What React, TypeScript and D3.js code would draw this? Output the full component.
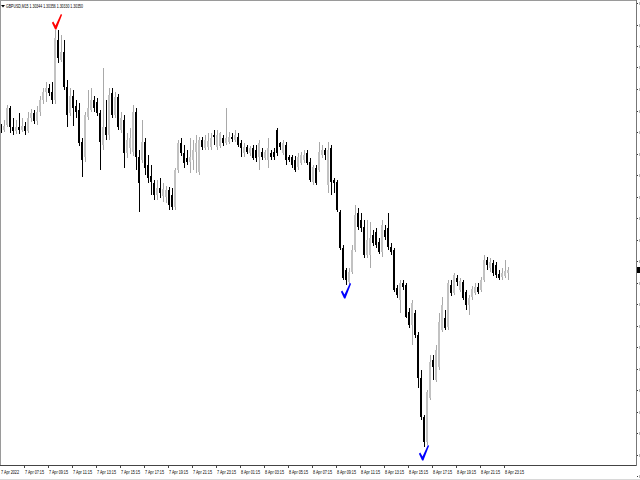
import React from 'react';
import * as d3 from 'd3';

// GBPUSD M15, 7 Apr 05:15 .. 8 Apr 23:30
const symbol = 'GBPUSD,M15';

const open = [
  1.30636, 1.30630, 1.30640, 1.30674, 1.30636, 1.30628, 1.30636, 1.30630, 1.30638, 1.30628,
  1.30654, 1.30664, 1.30648, 1.30666, 1.30690, 1.30706, 1.30714, 1.30706, 1.30690, 1.30810,
  1.30770, 1.30786, 1.30716, 1.30664, 1.30698, 1.30678, 1.30670, 1.30606, 1.30576, 1.30656,
  1.30670, 1.30690, 1.30686, 1.30664, 1.30600, 1.30636, 1.30620, 1.30704, 1.30660, 1.30696,
  1.30630, 1.30650, 1.30584, 1.30594, 1.30586, 1.30666, 1.30576, 1.30570, 1.30606, 1.30560,
  1.30538, 1.30524, 1.30500, 1.30514, 1.30498, 1.30496, 1.30510, 1.30500, 1.30476, 1.30550,
  1.30604, 1.30584, 1.30574, 1.30566, 1.30570, 1.30586, 1.30546, 1.30610, 1.30594, 1.30596,
  1.30596, 1.30620, 1.30596, 1.30598, 1.30614, 1.30604, 1.30606, 1.30616, 1.30610, 1.30616,
  1.30604, 1.30584, 1.30596, 1.30584, 1.30594, 1.30590, 1.30576, 1.30586, 1.30574, 1.30570,
  1.30584, 1.30586, 1.30630, 1.30604, 1.30584, 1.30600, 1.30576, 1.30576, 1.30570, 1.30556,
  1.30564, 1.30570, 1.30584, 1.30566, 1.30526, 1.30554, 1.30550, 1.30580, 1.30590, 1.30520,
  1.30594, 1.30530, 1.30526, 1.30466, 1.30394, 1.30350, 1.30326, 1.30346, 1.30390, 1.30464,
  1.30450, 1.30436, 1.30380, 1.30380, 1.30420, 1.30426, 1.30406, 1.30386, 1.30430, 1.30434,
  1.30396, 1.30390, 1.30314, 1.30290, 1.30324, 1.30320, 1.30266, 1.30240, 1.30264, 1.30220,
  1.30134, 1.30056, 1.30006, 1.30094, 1.30170, 1.30130, 1.30156, 1.30230, 1.30254, 1.30236,
  1.30320, 1.30304, 1.30334, 1.30310, 1.30326, 1.30306, 1.30280, 1.30296, 1.30304, 1.30316,
  1.30310, 1.30330, 1.30370, 1.30354, 1.30364, 1.30360, 1.30342, 1.30336, 1.30338, 1.30344,
];

const high = [
  1.30642, 1.30650, 1.30680, 1.30678, 1.30654, 1.30650, 1.30664, 1.30654, 1.30646, 1.30666,
  1.30672, 1.30670, 1.30678, 1.30698, 1.30714, 1.30726, 1.30722, 1.30726, 1.30830, 1.30830,
  1.30820, 1.30810, 1.30730, 1.30714, 1.30710, 1.30690, 1.30684, 1.30614, 1.30666, 1.30710,
  1.30714, 1.30698, 1.30694, 1.30670, 1.30754, 1.30690, 1.30714, 1.30714, 1.30706, 1.30702,
  1.30666, 1.30660, 1.30624, 1.30634, 1.30680, 1.30674, 1.30590, 1.30650, 1.30614, 1.30580,
  1.30560, 1.30530, 1.30530, 1.30534, 1.30524, 1.30518, 1.30516, 1.30514, 1.30554, 1.30610,
  1.30614, 1.30600, 1.30590, 1.30614, 1.30610, 1.30620, 1.30616, 1.30616, 1.30620, 1.30624,
  1.30624, 1.30630, 1.30630, 1.30626, 1.30620, 1.30674, 1.30626, 1.30624, 1.30630, 1.30624,
  1.30610, 1.30604, 1.30600, 1.30598, 1.30600, 1.30600, 1.30610, 1.30594, 1.30590, 1.30614,
  1.30590, 1.30594, 1.30634, 1.30606, 1.30610, 1.30606, 1.30580, 1.30580, 1.30578, 1.30584,
  1.30586, 1.30590, 1.30590, 1.30574, 1.30560, 1.30560, 1.30606, 1.30600, 1.30594, 1.30606,
  1.30600, 1.30534, 1.30530, 1.30470, 1.30400, 1.30354, 1.30354, 1.30400, 1.30480, 1.30474,
  1.30464, 1.30450, 1.30450, 1.30446, 1.30430, 1.30434, 1.30414, 1.30450, 1.30440, 1.30464,
  1.30404, 1.30394, 1.30320, 1.30330, 1.30330, 1.30324, 1.30274, 1.30290, 1.30270, 1.30226,
  1.30150, 1.30060, 1.30110, 1.30180, 1.30180, 1.30200, 1.30264, 1.30296, 1.30270, 1.30330,
  1.30330, 1.30344, 1.30340, 1.30334, 1.30330, 1.30310, 1.30300, 1.30318, 1.30324, 1.30324,
  1.30336, 1.30380, 1.30376, 1.30374, 1.30370, 1.30366, 1.30350, 1.30354, 1.30370, 1.30356,
];

const low = [
  1.30624, 1.30626, 1.30636, 1.30624, 1.30620, 1.30622, 1.30622, 1.30626, 1.30620, 1.30624,
  1.30646, 1.30642, 1.30640, 1.30658, 1.30682, 1.30686, 1.30698, 1.30682, 1.30682, 1.30764,
  1.30766, 1.30710, 1.30636, 1.30658, 1.30638, 1.30654, 1.30598, 1.30536, 1.30566, 1.30650,
  1.30666, 1.30666, 1.30658, 1.30550, 1.30590, 1.30610, 1.30610, 1.30654, 1.30654, 1.30630,
  1.30624, 1.30554, 1.30574, 1.30582, 1.30578, 1.30550, 1.30466, 1.30564, 1.30540, 1.30524,
  1.30500, 1.30490, 1.30490, 1.30494, 1.30486, 1.30484, 1.30470, 1.30470, 1.30470, 1.30544,
  1.30578, 1.30554, 1.30560, 1.30544, 1.30550, 1.30544, 1.30540, 1.30590, 1.30590, 1.30590,
  1.30590, 1.30600, 1.30590, 1.30594, 1.30598, 1.30600, 1.30602, 1.30606, 1.30606, 1.30596,
  1.30576, 1.30576, 1.30582, 1.30578, 1.30570, 1.30566, 1.30550, 1.30570, 1.30570, 1.30554,
  1.30570, 1.30570, 1.30578, 1.30590, 1.30580, 1.30560, 1.30566, 1.30554, 1.30546, 1.30550,
  1.30560, 1.30564, 1.30560, 1.30526, 1.30520, 1.30520, 1.30546, 1.30574, 1.30570, 1.30504,
  1.30500, 1.30504, 1.30466, 1.30390, 1.30330, 1.30320, 1.30322, 1.30342, 1.30386, 1.30430,
  1.30426, 1.30374, 1.30374, 1.30354, 1.30398, 1.30394, 1.30382, 1.30376, 1.30410, 1.30390,
  1.30380, 1.30306, 1.30294, 1.30264, 1.30310, 1.30254, 1.30234, 1.30200, 1.30214, 1.30114,
  1.30050, 1.29996, 1.30000, 1.30090, 1.30130, 1.30126, 1.30150, 1.30226, 1.30230, 1.30230,
  1.30298, 1.30300, 1.30318, 1.30306, 1.30290, 1.30270, 1.30260, 1.30290, 1.30300, 1.30302,
  1.30306, 1.30326, 1.30350, 1.30346, 1.30338, 1.30334, 1.30330, 1.30330, 1.30334, 1.30330,
];

const close = [
  1.30630, 1.30638, 1.30674, 1.30636, 1.30628, 1.30636, 1.30630, 1.30638, 1.30628, 1.30654,
  1.30664, 1.30648, 1.30666, 1.30690, 1.30706, 1.30714, 1.30704, 1.30690, 1.30814, 1.30774,
  1.30786, 1.30716, 1.30660, 1.30698, 1.30674, 1.30666, 1.30604, 1.30570, 1.30660, 1.30674,
  1.30690, 1.30674, 1.30664, 1.30606, 1.30636, 1.30620, 1.30700, 1.30660, 1.30696, 1.30636,
  1.30654, 1.30584, 1.30610, 1.30614, 1.30666, 1.30576, 1.30524, 1.30606, 1.30554, 1.30534,
  1.30526, 1.30500, 1.30514, 1.30504, 1.30512, 1.30510, 1.30480, 1.30476, 1.30550, 1.30604,
  1.30584, 1.30564, 1.30566, 1.30576, 1.30590, 1.30604, 1.30610, 1.30596, 1.30610, 1.30608,
  1.30614, 1.30616, 1.30620, 1.30624, 1.30604, 1.30614, 1.30616, 1.30612, 1.30620, 1.30600,
  1.30594, 1.30596, 1.30586, 1.30594, 1.30574, 1.30574, 1.30604, 1.30576, 1.30586, 1.30594,
  1.30576, 1.30576, 1.30584, 1.30596, 1.30604, 1.30570, 1.30570, 1.30560, 1.30550, 1.30576,
  1.30580, 1.30580, 1.30564, 1.30530, 1.30556, 1.30524, 1.30586, 1.30590, 1.30580, 1.30590,
  1.30526, 1.30524, 1.30470, 1.30394, 1.30334, 1.30330, 1.30346, 1.30390, 1.30460, 1.30436,
  1.30434, 1.30380, 1.30410, 1.30414, 1.30404, 1.30400, 1.30386, 1.30440, 1.30416, 1.30396,
  1.30386, 1.30310, 1.30300, 1.30324, 1.30316, 1.30256, 1.30240, 1.30284, 1.30220, 1.30134,
  1.30056, 1.30006, 1.30106, 1.30166, 1.30156, 1.30190, 1.30246, 1.30280, 1.30234, 1.30324,
  1.30304, 1.30340, 1.30326, 1.30328, 1.30294, 1.30280, 1.30294, 1.30312, 1.30316, 1.30306,
  1.30330, 1.30370, 1.30360, 1.30366, 1.30344, 1.30340, 1.30334, 1.30344, 1.30348, 1.30350,
];

// one label every 8 bars (2 hours)
const timeLabels = [
  '7 Apr 2022', '7 Apr 07:15', '7 Apr 09:15', '7 Apr 11:15', '7 Apr 13:15', '7 Apr 15:15',
  '7 Apr 17:15', '7 Apr 19:15', '7 Apr 21:15', '7 Apr 23:15', '8 Apr 01:15', '8 Apr 03:15',
  '8 Apr 05:15', '8 Apr 07:15', '8 Apr 09:15', '8 Apr 11:15', '8 Apr 13:15', '8 Apr 15:15',
  '8 Apr 17:15', '8 Apr 19:15', '8 Apr 21:15', '8 Apr 23:15',
];
const BARS_PER_LABEL = 8;

// arrow signals (bar index, side)
const signalBars = [18, 115, 141];
const signalSide = ['sell', 'buy', 'buy'];

const W = 640;
const H = 480;
const PLOT_RIGHT = 636;
const PLOT_BOTTOM = 465;
const BAR_PX = 3;

const CHECK = 'M-3.6,-6.2 L-2.2,-7.4 L0,-3.4 L5.4,-15 L6.6,-14.2 L0.9,0.4 L-0.4,0.4 Z';

const fmt = d3.format('.5f');

const App: React.FC = () => {
    const n = open.length;
    const last = n - 1;

    const x = d3.scaleLinear().domain([0, n - 1]).range([1, 1 + BAR_PX * (n - 1)]);
    const y = d3.scaleLinear().domain([1.2996, 1.3089]).range([PLOT_BOTTOM, 0]);

    // price scale is mostly off-screen, only its tick stubs show
    const priceTicks = d3.range(1.30368 - 0.00043 * 12, 1.3089, 0.00043);

    const header = `${symbol}  ${fmt(open[last])} ${fmt(high[last])} ${fmt(low[last])} ${fmt(close[last])}`;

    return (
        <svg
            width={W}
            height={H}
            style={{ position: 'absolute', left: 0, top: 0, display: 'block', background: '#fff' }}
            fontFamily="'Liberation Sans', Arial, sans-serif"
        >
            <rect x={0} y={0} width={W} height={H} fill="#ffffff" />

            {/* candles */}
            {open.map((o, i) => {
                const c = close[i];
                const bull = c >= o;
                const cx = Math.round(x(i));
                const yH = Math.round(y(high[i]));
                const yL = Math.round(y(low[i]));
                const yTop = Math.round(y(Math.max(o, c)));
                const yBot = Math.round(y(Math.min(o, c)));
                return (
                    <g key={i}>
                        <rect x={cx} y={yH} width={1} height={Math.max(1, yL - yH)}
                            fill={bull ? '#a9a9a9' : '#000'} />
                        <rect x={cx - 1} y={yTop} width={2} height={Math.max(1, yBot - yTop)}
                            fill={bull ? '#c2c2c2' : '#000'} />
                    </g>
                );
            })}

            {/* signal arrows */}
            {signalBars.map((b, k) => {
                const sell = signalSide[k] === 'sell';
                const ax = x(b) + (sell ? 0.5 : -1.5);
                const ay = sell ? y(high[b]) - 1 : y(low[b]) + 13;
                return (
                    <path key={k} d={CHECK} transform={`translate(${ax},${ay})`}
                        fill={sell ? '#ff0000' : '#0000ff'} />
                );
            })}

            {/* frame */}
            <line x1={0.5} y1={0} x2={0.5} y2={PLOT_BOTTOM} stroke="#9a9a9a" />
            <line x1={0} y1={0.5} x2={PLOT_RIGHT} y2={0.5} stroke="#9a9a9a" />
            <line x1={0} y1={PLOT_BOTTOM + 0.5} x2={PLOT_RIGHT + 1} y2={PLOT_BOTTOM + 0.5} stroke="#444" />
            <line x1={PLOT_RIGHT + 0.5} y1={0} x2={PLOT_RIGHT + 0.5} y2={PLOT_BOTTOM + 1} stroke="#777" />

            {/* price scale stub on the right */}
            {priceTicks.map((p, k) => {
                const ty = Math.round(y(p));
                return (
                    <g key={k}>
                        <rect x={PLOT_RIGHT + 1} y={ty} width={1} height={1} fill="#333" />
                        <rect x={PLOT_RIGHT + 3} y={ty - 1} width={1} height={3} fill="#bbb" />
                    </g>
                );
            })}
            <rect x={PLOT_RIGHT + 1} y={Math.round(y(close[last])) - 3} width={4} height={6} fill="#000" />

            {/* header */}
            <path d="M1,5 L5,5 L3,7.5 Z" fill="#000" />
            <text x={6} y={8} fontSize={4.6} fill="#000" textLength={77} lengthAdjust="spacingAndGlyphs">
                {header}
            </text>

            {/* time axis */}
            {timeLabels.map((t, k) => {
                const tx = Math.round(x(k * BARS_PER_LABEL)) - 1;
                return (
                    <g key={t}>
                        {k > 0 && (
                            <line x1={tx + 0.5} x2={tx + 0.5} y1={PLOT_BOTTOM + 1} y2={PLOT_BOTTOM + 3} stroke="#444" />
                        )}
                        <text x={k === 0 ? 1 : tx + 1} y={473.5} fontSize={4.6} fill="#000"
                            textLength={k === 0 ? 18 : 19} lengthAdjust="spacingAndGlyphs">
                            {t}
                        </text>
                    </g>
                );
            })}
            <line x1={0} x2={W} y1={479.5} y2={479.5} stroke="#d8d8d8" />
        </svg>
    );
};

export default App;
